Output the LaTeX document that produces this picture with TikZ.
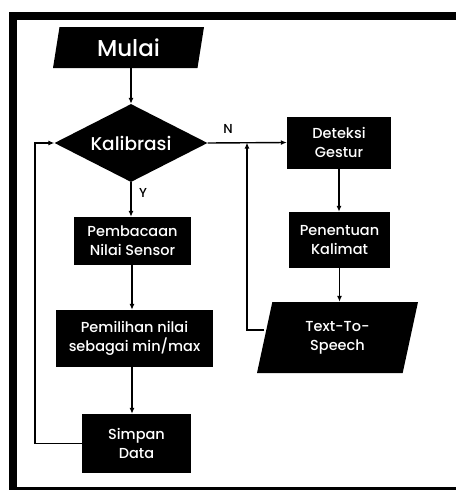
\documentclass[tikz,border=0pt]{standalone}
\usepackage{fontspec}
\setmainfont{Poppins Medium}
\usetikzlibrary{shapes.geometric,arrows.meta}

\begin{document}
\begin{tikzpicture}[x=1pt,y=-1pt,
    flow/.style={-{Latex[length=6pt,width=5pt]},line width=1.4pt},
    proc/.style={rectangle,fill=black,text=white,inner sep=0pt,align=center,
      font=\fontsize{14.5}{19}\selectfont},
    io/.style={trapezium,trapezium stretches body,fill=black,text=white,inner sep=0pt,
      align=center},
    cond/.style={diamond,aspect=2,fill=black,text=white,inner sep=0pt}]
        \useasboundingbox (0,0) rectangle (456,490);
        \draw[line width=8pt] (456,16) -- (13,16) -- (13,491) -- (456,491);
        \node[io,trapezium left angle=70,trapezium right angle=110,
          minimum width=151pt,minimum height=41pt,font=\fontsize{23}{25}\selectfont]
          (mulai) at (128.5,47.5) {Mulai};
        \node[cond,minimum width=153pt,minimum height=78pt,font=\fontsize{18.5}{20}\selectfont]
          (kal) at (131,143) {Kalibrasi};
        \node[proc,minimum width=117pt,minimum height=48pt] (baca) at (132.5,241)
          {Pembacaan\\Nilai Sensor};
        \node[proc,minimum width=157pt,minimum height=57pt] (pilih) at (134.5,338.5)
          {Pemilihan nilai\\sebagai min/max};
        \node[proc,minimum width=109pt,minimum height=59pt] (simpan) at (136.5,443.5)
          {Simpan\\Data};
        \node[proc,minimum width=104pt,minimum height=52pt] (deteksi) at (339,142.5)
          {Deteksi\\Gestur};
        \node[proc,minimum width=101pt,minimum height=56pt] (tentu) at (339.5,240)
          {Penentuan\\Kalimat};
        \node[io,trapezium left angle=65,trapezium right angle=115,
          minimum width=161pt,minimum height=71pt,font=\fontsize{14.5}{19}\selectfont]
          (tts) at (337.5,337.5) {Text-To-\\Speech};
        \coordinate (kiri) at (35,443.5);
        \coordinate (kanan) at (247,330);
        \draw[flow] (mulai.south -| kal.north) -- (kal.north);
        \draw[flow] (kal.south) -- (kal.south |- baca.north);
        \draw[flow] (baca.south -| 132,0) -- (pilih.north -| 132,0);
        \draw[flow] (pilih.south -| 132,0) -- (simpan.north -| 132,0);
        \draw[flow] (simpan.west) -- (kiri) -- (kiri |- kal.west) -- (kal.west);
        \draw[flow] (kal.east) -- (deteksi.west);
        \draw[flow] (deteksi.south) -- (tentu.north -| deteksi.south);
        \draw[flow] (tentu.south) -- (tentu.south |- tts.north);
        \draw[flow] (tts.west |- kanan) -- (kanan) -- (kanan |- deteksi.west);
        \node[font=\fontsize{13}{14}\selectfont] (n) at (228,129) {N};
        \node[font=\fontsize{13}{14}\selectfont] (y) at (143,193) {Y};
      \end{tikzpicture}
\end{document}
